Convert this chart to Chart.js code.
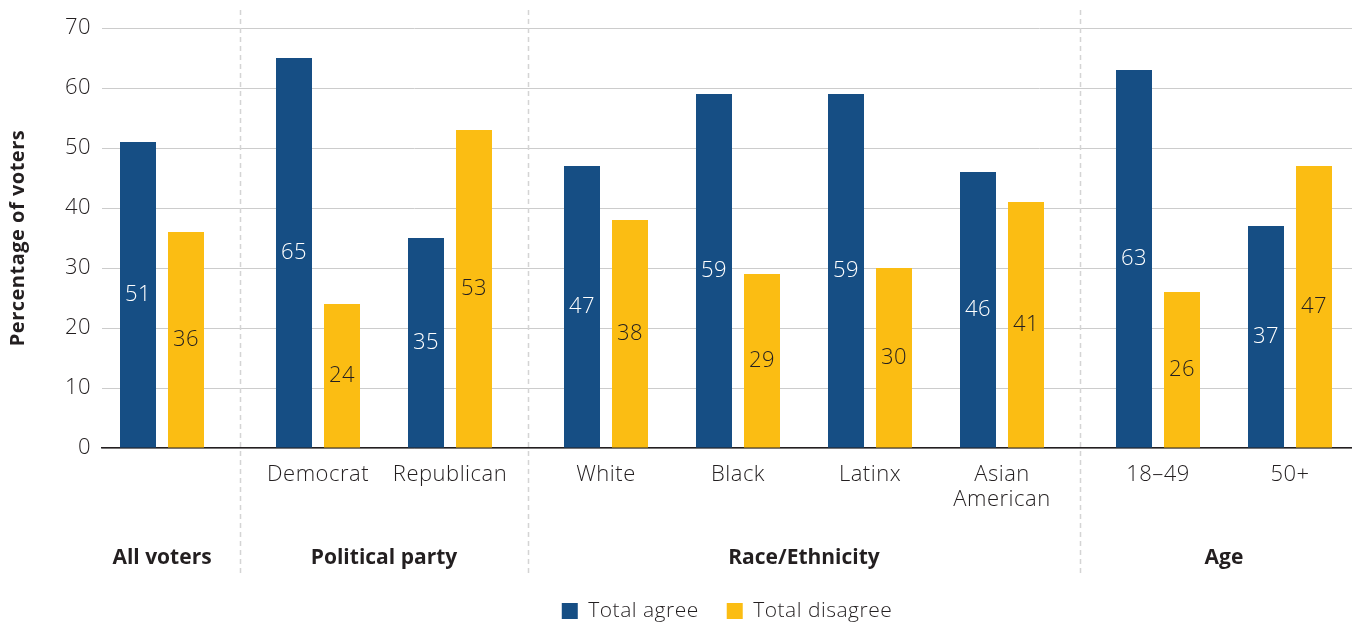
<!DOCTYPE html>
<html>
<head>
<meta charset="utf-8">
<title>Percentage of voters</title>
<script src="https://cdn.jsdelivr.net/npm/chart.js@4/dist/chart.umd.min.js"></script>
<style>
  html, body { margin: 0; padding: 0; background: #fff; }
  #wrap { width: 1352px; height: 624px; }
</style>
</head>
<body>
<div id="wrap"><canvas id="chart"></canvas></div>
<script>
  // chart data
  const tickLabels = ['', 'Democrat', 'Republican', 'White', 'Black', 'Latinx', ['Asian', 'American'], '18–49', '50+'];
  const groupNames = ['All voters', 'Political party', 'Race/Ethnicity', 'Age'];
  const groupOf = [0, 1, 1, 2, 2, 2, 2, 3, 3];
  const agree = [51, 65, 35, 47, 59, 59, 46, 63, 37];
  const disagree = [36, 24, 53, 38, 29, 30, 41, 26, 47];

  const BLUE = '#164e84';
  const GOLD = '#fbbd13';
  const INK = '#231f20';
  const FONT = '"Open Sans", "Noto Sans", sans-serif';
  const SPACING = '0.5px';

  // extra room between groups, as a share of one category step
  const GROUP_GAP = 24 / 132;
  const xPos = groupOf.map((g, i) => i + g * GROUP_GAP);

  // the original face is wider than Open Sans, open it up a little
  const spacing = {
    id: 'spacing',
    beforeUpdate(chart) { chart.ctx.letterSpacing = SPACING; },
    beforeDraw(chart) { chart.ctx.letterSpacing = SPACING; }
  };

  // value labels, group names and dashed separators
  const extras = {
    id: 'extras',
    beforeDatasetsDraw(chart) {
      const {ctx, scales: {x}} = chart;
      ctx.save();
      ctx.strokeStyle = '#d4d4d4';
      ctx.lineWidth = 1.5;
      ctx.setLineDash([5, 4]);
      for (let i = 1; i < groupOf.length; i++) {
        if (groupOf[i] === groupOf[i - 1]) continue;
        const px = Math.round(x.getPixelForValue((xPos[i] + xPos[i - 1]) / 2)) + 0.5;
        ctx.beginPath();
        ctx.moveTo(px, 10);
        ctx.lineTo(px, 574);
        ctx.stroke();
      }
      ctx.restore();
    },
    afterDatasetsDraw(chart) {
      const {ctx, scales: {x}} = chart;
      ctx.save();
      ctx.textAlign = 'center';
      ctx.textBaseline = 'middle';
      ctx.font = '300 22px ' + FONT;
      chart.data.datasets.forEach((ds, di) => {
        ctx.fillStyle = di === 0 ? '#ffffff' : INK;
        chart.getDatasetMeta(di).data.forEach((bar, i) => {
          ctx.fillText(String(ds.data[i].y), bar.x, (bar.y + bar.base) / 2);
        });
      });

      ctx.letterSpacing = '0px';
      ctx.font = 'bold 21px ' + FONT;
      ctx.fillStyle = INK;
      groupNames.forEach((name, g) => {
        const idx = xPos.filter((_, i) => groupOf[i] === g);
        const mid = (idx[0] + idx[idx.length - 1]) / 2;
        ctx.fillText(name, x.getPixelForValue(mid), 558);
      });
      ctx.restore();
    }
  };

  new Chart(document.getElementById('chart'), {
    type: 'bar',
    data: {
      datasets: [{
        label: 'Total agree',
        data: agree.map((v, i) => ({x: xPos[i], y: v})),
        backgroundColor: BLUE,
        categoryPercentage: 96 / 132,
        barPercentage: 36 / 48
      },
      {
        label: 'Total disagree',
        data: disagree.map((v, i) => ({x: xPos[i], y: v})),
        backgroundColor: GOLD,
        categoryPercentage: 96 / 132,
        barPercentage: 36 / 48
      }
      ]
    },
    options: {
      responsive: true,
      maintainAspectRatio: false,
      animation: false,
      layout: {padding: {top: 28, right: 0, bottom: 0, left: 0}},
      font: {family: FONT},
      plugins: {
        tooltip: {enabled: false},
        legend: {
          position: 'bottom',
          fullSize: false,
          maxHeight: 51.5,
          labels: {
            boxWidth: 16,
            boxHeight: 16,
            padding: 28,
            color: INK,
            font: {family: FONT, size: 21, weight: 300}
          }
        }
      },
      scales: {
        x: {
          type: 'linear',
          offset: false,
          min: -60 / 132,
          max: 1190 / 132,
          afterFit(scale) { scale.height = 124.5; },
          afterBuildTicks(scale) { scale.ticks = xPos.map(v => ({value: v})); },
          grid: {display: false, offset: false},
          border: {display: true, color: INK, width: 1.5},
          ticks: {
            autoSkip: false,
            maxRotation: 0,
            padding: 6,
            color: INK,
            font: {family: FONT, size: 22, weight: 300, lineHeight: 1.15},
            callback: (v, i) => tickLabels[i]
          }
        },
        y: {
          min: 0,
          max: 70,
          afterFit(scale) { scale.width = 102; },
          grid: {color: '#cccccc', lineWidth: 1, drawTicks: false},
          border: {display: false},
          ticks: {
            stepSize: 10,
            padding: 11,
            color: INK,
            font: {family: FONT, size: 22, weight: 300}
          },
          title: {
            display: true,
            text: 'Percentage of voters',
            color: INK,
            padding: {top: 6, bottom: 4},
            font: {family: FONT, size: 20, weight: 'bold'}
          }
        }
      }
    },
    plugins: [spacing, extras]
  });
</script>
</body>
</html>
